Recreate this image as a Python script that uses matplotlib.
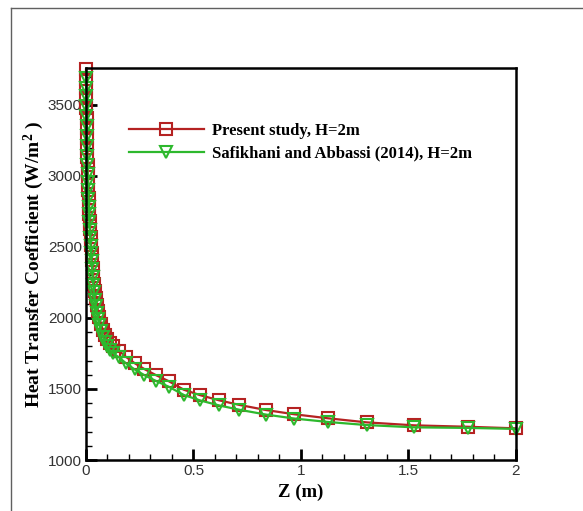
import numpy as np
import matplotlib
matplotlib.use('Agg')
import matplotlib.pyplot as plt
from matplotlib.lines import Line2D
from matplotlib.ticker import MultipleLocator, FormatStrFormatter

plt.rcParams['font.family'] = ['Liberation Sans', 'DejaVu Sans']
plt.rcParams['mathtext.fontset'] = 'custom'
plt.rcParams['mathtext.rm'] = 'Liberation Serif:bold'
plt.rcParams['mathtext.it'] = 'Liberation Serif:bold'

# 沿程位置 Z (m)，近入口处网格加密
z = [0, 0.0005, 0.001, 0.0016, 0.0023, 0.0031, 0.004, 0.005, 0.006, 0.007,
     0.008, 0.009, 0.0102, 0.0115, 0.0129, 0.0144, 0.016, 0.0177, 0.0195, 0.0215,
     0.0237, 0.026, 0.0285, 0.0312, 0.0342, 0.0375, 0.0412, 0.0453, 0.050, 0.0555,
     0.062, 0.0695, 0.078, 0.0875, 0.098, 0.110, 0.126, 0.154, 0.187, 0.226,
     0.272, 0.325, 0.385, 0.455, 0.530, 0.620, 0.713, 0.837, 0.969, 1.124,
     1.306, 1.527, 1.778, 2.0]

# 本文计算结果 (W/m^2)
h_present = [3750, 3680, 3620, 3550, 3480, 3410, 3340, 3270, 3200, 3135,
             3075, 3020, 2960, 2900, 2845, 2790, 2735, 2680, 2625, 2570,
             2515, 2460, 2405, 2350, 2295, 2240, 2190, 2140, 2095, 2050,
             2005, 1960, 1918, 1880, 1850, 1825, 1800, 1768, 1725, 1682,
             1640, 1598, 1555, 1495, 1457, 1420, 1388, 1352, 1322, 1294,
             1265, 1244, 1234, 1223]

# Safikhani and Abbassi (2014)
h_ref = [3690, 3620, 3560, 3490, 3420, 3350, 3280, 3210, 3140, 3075,
         3015, 2960, 2900, 2840, 2785, 2730, 2675, 2620, 2565, 2510,
         2455, 2400, 2345, 2290, 2235, 2180, 2130, 2082, 2038, 1995,
         1952, 1910, 1868, 1830, 1800, 1776, 1752, 1722, 1680, 1638,
         1597, 1557, 1516, 1458, 1420, 1384, 1354, 1320, 1292, 1268,
         1246, 1230, 1226, 1219]

fig = plt.figure(figsize=(5.83, 5.11), dpi=100)
ax = fig.add_axes([0.1475, 0.0998, 0.7375, 0.767])

ax.plot(z, h_present, '-', color='#b52222', linewidth=1.6,
        marker='s', markersize=8, markerfacecolor='none', markeredgewidth=1.5,
        clip_on=False, label='Present study, H=2m')
ax.plot(z, h_ref, '-', color='#2db82d', linewidth=1.6,
        marker='v', markersize=8.5, markerfacecolor='none', markeredgewidth=1.5,
        clip_on=False, label='Safikhani and Abbassi (2014), H=2m')

ax.set_xlim(0, 2)
ax.set_ylim(1000, 3760)

ax.xaxis.set_major_locator(MultipleLocator(0.5))
ax.xaxis.set_minor_locator(MultipleLocator(0.1))
ax.yaxis.set_major_locator(MultipleLocator(500))
ax.yaxis.set_minor_locator(MultipleLocator(100))
ax.xaxis.set_major_formatter(FormatStrFormatter('%g'))

ax.tick_params(which='both', direction='in', top=False, right=False,
               labelsize=11, labelcolor='#333333', pad=3)
ax.tick_params(which='major', length=8, width=2)
ax.tick_params(which='minor', length=4, width=1)
for sp in ax.spines.values():
    sp.set_linewidth(1.8)

ax.set_xlabel('Z (m)', family=['Liberation Serif', 'DejaVu Serif'],
              weight='bold', size=13.5, labelpad=4)
ax.set_ylabel('Heat Transfer Coefficient (W/m$^2$ )',
              family=['Liberation Serif', 'DejaVu Serif'],
              weight='bold', size=14, labelpad=1)

ax.legend(loc='upper left', bbox_to_anchor=(0.1, 0.86), frameon=False,
          numpoints=1, handlelength=4.5, handletextpad=0.5, labelspacing=0.4,
          borderaxespad=0, borderpad=0,
          prop=dict(family=['Liberation Serif', 'DejaVu Serif'], weight='bold', size=12))

# 外框（左、上）
fig.add_artist(Line2D([0.0197, 0.0197], [0, 0.9853], transform=fig.transFigure,
                      color='#606060', linewidth=1))
fig.add_artist(Line2D([0.0197, 1.0], [0.9853, 0.9853], transform=fig.transFigure,
                      color='#606060', linewidth=1))

plt.savefig('out.png', dpi=100)
plt.close()
